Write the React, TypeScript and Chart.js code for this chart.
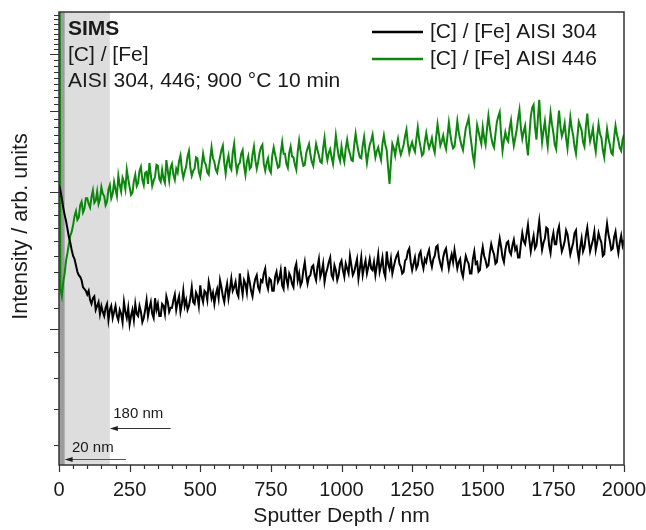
import React, { useEffect, useRef } from 'react';
import { Chart, registerables } from 'chart.js';

Chart.register(...registerables);

// Sputter depth (nm)
const depthNm = [
  0, 5, 10, 15, 20, 25, 30, 35, 40, 45, 50, 55, 60, 65, 70, 75, 80, 85, 90, 95,
  100, 105, 110, 115, 120, 125, 130, 135, 140, 145, 150, 155, 160, 165, 170, 175, 180, 185, 190, 195,
  200, 205, 210, 215, 220, 225, 230, 235, 240, 245, 250, 255, 260, 265, 270, 275, 280, 285, 290, 295,
  300, 305, 310, 315, 320, 325, 330, 335, 340, 345, 350, 355, 360, 365, 370, 375, 380, 385, 390, 395,
  400, 405, 410, 415, 420, 425, 430, 435, 440, 445, 450, 455, 460, 465, 470, 475, 480, 485, 490, 495,
  500, 505, 510, 515, 520, 525, 530, 535, 540, 545, 550, 555, 560, 565, 570, 575, 580, 585, 590, 595,
  600, 605, 610, 615, 620, 625, 630, 635, 640, 645, 650, 655, 660, 665, 670, 675, 680, 685, 690, 695,
  700, 705, 710, 715, 720, 725, 730, 735, 740, 745, 750, 755, 760, 765, 770, 775, 780, 785, 790, 795,
  800, 805, 810, 815, 820, 825, 830, 835, 840, 845, 850, 855, 860, 865, 870, 875, 880, 885, 890, 895,
  900, 905, 910, 915, 920, 925, 930, 935, 940, 945, 950, 955, 960, 965, 970, 975, 980, 985, 990, 995,
  1000, 1005, 1010, 1015, 1020, 1025, 1030, 1035, 1040, 1045, 1050, 1055, 1060, 1065, 1070, 1075, 1080, 1085, 1090, 1095,
  1100, 1105, 1110, 1115, 1120, 1125, 1130, 1135, 1140, 1145, 1150, 1155, 1160, 1165, 1170, 1175, 1180, 1185, 1190, 1195,
  1200, 1205, 1210, 1215, 1220, 1225, 1230, 1235, 1240, 1245, 1250, 1255, 1260, 1265, 1270, 1275, 1280, 1285, 1290, 1295,
  1300, 1305, 1310, 1315, 1320, 1325, 1330, 1335, 1340, 1345, 1350, 1355, 1360, 1365, 1370, 1375, 1380, 1385, 1390, 1395,
  1400, 1405, 1410, 1415, 1420, 1425, 1430, 1435, 1440, 1445, 1450, 1455, 1460, 1465, 1470, 1475, 1480, 1485, 1490, 1495,
  1500, 1505, 1510, 1515, 1520, 1525, 1530, 1535, 1540, 1545, 1550, 1555, 1560, 1565, 1570, 1575, 1580, 1585, 1590, 1595,
  1600, 1605, 1610, 1615, 1620, 1625, 1630, 1635, 1640, 1645, 1650, 1655, 1660, 1665, 1670, 1675, 1680, 1685, 1690, 1695,
  1700, 1705, 1710, 1715, 1720, 1725, 1730, 1735, 1740, 1745, 1750, 1755, 1760, 1765, 1770, 1775, 1780, 1785, 1790, 1795,
  1800, 1805, 1810, 1815, 1820, 1825, 1830, 1835, 1840, 1845, 1850, 1855, 1860, 1865, 1870, 1875, 1880, 1885, 1890, 1895,
  1900, 1905, 1910, 1915, 1920, 1925, 1930, 1935, 1940, 1945, 1950, 1955, 1960, 1965, 1970, 1975, 1980, 1985, 1990, 1995,
  2000,
];

// [C]/[Fe] ratio, AISI 304 (arb. units)
const aisi304 = [
  18.6, 18.1, 17.4, 16.6, 16.0, 15.5, 14.9, 14.3, 13.9, 13.4, 13.0, 12.8, 12.4, 12.0, 11.8, 11.7, 11.5, 11.1, 11.0, 10.9,
  10.7, 10.9, 10.4, 10.2, 10.5, 10.6, 9.9, 10.1, 10.3, 9.7, 10.1, 9.8, 9.6, 10.0, 10.2, 9.4, 9.9, 10.1, 9.5, 9.8,
  10.1, 9.6, 9.4, 9.9, 9.7, 9.3, 10.3, 9.8, 9.5, 10.0, 9.2, 9.6, 9.9, 9.4, 10.2, 9.7, 9.6, 10.1, 9.8, 9.3,
  9.5, 9.9, 10.4, 9.6, 10.0, 10.3, 9.7, 9.5, 10.5, 9.9, 10.2, 9.6, 9.6, 10.2, 10.1, 9.7, 10.6, 10.3, 9.8, 10.0,
  10.0, 10.4, 10.7, 9.9, 10.3, 10.6, 9.8, 10.2, 10.9, 10.1, 10.4, 9.9, 10.1, 10.5, 11.1, 10.3, 10.2, 10.8, 10.6, 10.1,
  11.2, 10.6, 10.3, 10.9, 10.8, 10.4, 11.4, 11.0, 10.5, 10.8, 10.2, 10.7, 11.0, 10.5, 11.5, 11.1, 10.6, 10.3, 10.9, 11.3,
  10.5, 11.0, 11.6, 10.9, 11.1, 11.4, 10.8, 10.6, 11.9, 11.2, 10.7, 11.5, 11.3, 10.8, 11.8, 11.4, 10.9, 10.6, 11.2, 11.6,
  11.8, 11.1, 10.9, 11.5, 11.4, 11.9, 12.2, 11.3, 11.0, 11.6, 11.5, 10.9, 10.9, 11.7, 12.0, 11.4, 11.6, 12.1, 11.2, 11.0,
  12.3, 11.6, 11.2, 11.9, 11.7, 11.3, 11.1, 12.2, 12.5, 11.5, 11.9, 11.2, 11.4, 12.1, 12.6, 11.8, 11.3, 11.7, 11.8, 12.3,
  12.4, 11.8, 11.5, 12.3, 12.8, 11.7, 12.0, 12.5, 11.4, 11.9, 12.2, 12.6, 12.9, 11.8, 11.6, 12.4, 12.1, 11.5, 11.8, 12.5,
  12.7, 12.1, 11.7, 12.5, 12.2, 11.9, 13.0, 12.4, 11.8, 12.0, 12.4, 12.8, 11.6, 12.2, 12.9, 11.8, 12.3, 12.7, 11.9, 12.3,
  12.8, 12.2, 12.1, 12.6, 11.8, 12.4, 13.1, 12.0, 12.4, 12.9, 12.0, 11.7, 13.3, 12.5, 12.2, 12.8, 11.9, 12.3, 12.7, 13.0,
  13.2, 12.5, 12.3, 11.9, 12.0, 12.7, 12.8, 13.3, 13.5, 12.6, 12.1, 12.5, 12.9, 12.2, 12.4, 13.1, 13.3, 12.6, 12.2, 12.8,
  12.6, 13.1, 13.4, 12.7, 12.3, 12.8, 13.0, 13.6, 13.7, 12.9, 12.5, 12.2, 12.9, 13.3, 13.5, 12.8, 12.2, 12.7, 13.1, 12.6,
  13.4, 12.8, 12.2, 12.6, 12.8, 12.0, 11.7, 12.4, 13.0, 12.7, 12.5, 11.9, 11.9, 12.8, 13.3, 12.5, 12.6, 12.0, 12.1, 13.0,
  13.6, 13.0, 12.7, 12.3, 12.4, 13.2, 13.8, 13.4, 13.1, 12.5, 12.6, 13.5, 14.2, 13.6, 12.9, 12.6, 13.4, 13.9, 14.0, 13.3,
  13.1, 13.7, 14.1, 13.4, 13.6, 12.9, 12.9, 13.8, 14.6, 14.0, 13.8, 14.5, 15.2, 14.1, 13.3, 13.9, 14.4, 13.5, 13.7, 14.6,
  15.5, 14.3, 13.4, 13.9, 14.2, 15.0, 14.9, 13.7, 13.2, 14.1, 14.6, 13.8, 13.8, 14.7, 15.1, 14.0, 13.3, 13.6, 14.0, 14.8,
  14.5, 13.8, 13.1, 13.5, 13.9, 14.6, 14.8, 13.4, 12.8, 13.6, 14.2, 13.3, 13.6, 14.4, 15.0, 14.1, 13.3, 13.7, 14.1, 14.7,
  13.4, 13.9, 14.6, 14.2, 13.9, 13.0, 13.1, 14.4, 15.3, 14.5, 14.0, 13.4, 13.5, 14.3, 14.7, 13.8, 13.2, 13.9, 14.4, 13.7,
  14.1,
];

// [C]/[Fe] ratio, AISI 446 (arb. units)
const aisi446 = [
  200, 11.0, 10.6, 11.4, 11.9, 12.7, 13.2, 13.8, 14.4, 14.7, 15.2, 15.9, 16.3, 15.6, 15.8, 16.8, 17.1, 16.2, 16.5, 17.4,
  17.4, 16.9, 16.6, 17.5, 18.1, 17.0, 17.2, 18.0, 16.9, 17.3, 18.4, 17.8, 17.6, 16.8, 17.1, 18.2, 18.6, 17.4, 17.8, 18.9,
  18.2, 17.6, 19.5, 18.6, 18.0, 19.3, 18.9, 18.2, 20.1, 19.2, 18.4, 17.7, 17.9, 19.0, 19.6, 18.5, 18.8, 20.0, 20.4, 19.1,
  18.6, 19.8, 19.9, 18.7, 20.8, 19.6, 18.5, 19.0, 19.4, 20.6, 20.5, 19.2, 18.9, 20.1, 19.2, 18.8, 21.1, 20.0, 19.0, 20.3,
  20.7, 19.6, 19.1, 20.2, 19.8, 21.0, 21.6, 20.1, 19.3, 19.9, 20.4, 21.5, 22.1, 20.3, 19.5, 20.0, 20.2, 21.4, 21.3, 19.9,
  19.4, 20.5, 21.8, 20.9, 20.6, 19.8, 19.6, 21.2, 22.5, 21.3, 20.9, 20.1, 19.8, 20.7, 21.4, 22.2, 22.7, 20.8, 19.7, 20.9,
  21.6, 20.4, 20.1, 21.9, 22.9, 21.0, 19.9, 20.6, 20.8, 21.8, 22.2, 20.5, 19.6, 20.9, 21.5, 20.2, 20.4, 21.7, 22.6, 21.1,
  20.2, 20.9, 21.9, 22.5, 22.8, 20.7, 20.0, 20.8, 21.3, 20.1, 19.8, 21.6, 22.5, 21.7, 21.0, 20.3, 20.4, 21.9, 23.1, 21.8,
  21.8, 20.7, 20.3, 21.9, 22.6, 21.5, 21.4, 20.6, 20.1, 22.0, 23.3, 22.1, 21.2, 20.5, 20.6, 21.8, 22.4, 22.9, 21.7, 20.9,
  20.5, 21.7, 22.9, 22.2, 21.6, 20.9, 20.8, 22.4, 23.6, 22.0, 21.1, 21.9, 22.3, 21.4, 20.7, 22.1, 23.9, 22.6, 21.5, 21.0,
  22.6, 21.5, 20.9, 22.4, 23.4, 22.3, 21.8, 21.1, 21.0, 22.8, 24.1, 22.9, 22.0, 21.4, 21.3, 22.7, 23.7, 22.1, 20.8, 21.9,
  22.8, 23.3, 24.0, 22.6, 21.4, 22.1, 22.5, 21.7, 21.1, 22.9, 23.9, 22.8, 22.2, 20.3, 18.7, 20.9, 22.9, 22.4, 21.6, 22.7,
  23.5, 22.4, 21.7, 22.2, 22.8, 23.8, 24.6, 22.9, 21.9, 22.6, 23.1, 22.4, 22.0, 23.5, 24.9, 23.4, 22.5, 21.6, 21.8, 23.2,
  24.2, 23.1, 22.4, 22.9, 23.6, 22.5, 21.9, 23.7, 25.3, 24.0, 22.7, 23.2, 23.9, 22.9, 22.3, 23.8, 25.5, 24.1, 23.0, 22.4,
  22.6, 24.0, 25.7, 24.3, 23.4, 22.7, 22.2, 23.5, 24.8, 25.4, 26.1, 24.2, 22.9, 21.6, 20.8, 22.8, 25.2, 24.4, 23.6, 22.9,
  24.9, 23.6, 22.8, 24.7, 26.4, 24.9, 23.7, 22.9, 22.5, 24.1, 25.6, 26.3, 26.9, 24.0, 22.1, 23.3, 24.3, 23.5, 23.2, 24.8,
  25.8, 23.9, 22.7, 23.6, 24.6, 26.0, 27.2, 24.8, 23.5, 24.4, 25.1, 23.0, 21.6, 23.9, 26.3, 27.5, 27.9, 25.0, 23.4, 25.9,
  28.6, 25.2, 23.1, 24.5, 25.7, 23.9, 22.6, 24.8, 26.8, 25.3, 24.2, 22.8, 22.3, 24.9, 27.1, 25.0, 23.8, 24.4, 25.4, 23.6,
  22.4, 24.3, 26.2, 24.8, 23.9, 22.6, 21.8, 23.7, 25.6, 25.1, 24.5, 23.1, 22.6, 24.9, 26.7, 24.6, 23.2, 23.9, 24.8, 23.0,
  22.0, 23.8, 25.3, 24.1, 23.6, 22.2, 21.4, 23.0, 24.7, 23.5, 22.8, 21.9, 21.7, 23.6, 25.1, 24.0, 23.3, 22.4, 22.1, 23.4,
  24.0,
];

const seriesLabels = ['[C] / [Fe] AISI 304', '[C] / [Fe] AISI 446'];
const seriesColors = ['#000000', '#0c860c'];

const xMinorTicks = [50, 100, 150, 200, 300, 350, 400, 450, 550, 600, 650, 700, 800, 850, 900, 950, 1050, 1100, 1150, 1200, 1300, 1350, 1400, 1450, 1550, 1600, 1650, 1700, 1800, 1850, 1900, 1950];
const xMajorTicks = [0, 250, 500, 750, 1000, 1250, 1500, 1750, 2000];
const yMinorTicks = [5, 6, 7, 8, 10, 11, 12, 13, 14, 15, 16, 17, 19, 20, 21, 22, 23, 24, 25, 26, 28, 29, 30, 31, 32, 33, 34, 35, 37, 38, 39, 40, 41, 42, 43, 44];
const yMajorTicks = [9, 18, 27, 36];

const infoLines = ['SIMS', '[C] / [Fe]', 'AISI 304, 446; 900 °C 10 min'];
// shaded depth regions (nm)
const outerRegion = [0, 180];
const innerRegion = [0, 20];
// arrow annotations
const arrowNotes = [
  { tip: 180, tail: 395, y: 5.45, label: '180 nm', lx: 192, ly: 5.85, color: '#333333' },
  { tip: 20, tail: 237, y: 4.66, label: '20 nm', lx: 46, ly: 4.93, color: '#555555' },
];

const FONT = "'Liberation Sans', Arial, Helvetica, sans-serif";
const TEXT = '#1a1a1a';
const AXIS = '#333333';

const shadePlugin = {
  id: 'shade',
  beforeDatasetsDraw(chart: any) {
    const { ctx, chartArea } = chart;
    const x = chart.scales.x;
    ctx.save();
    ctx.fillStyle = '#dddddd';
    const a = x.getPixelForValue(outerRegion[0]);
    const b = x.getPixelForValue(outerRegion[1]);
    ctx.fillRect(a, chartArea.top, b - a, chartArea.bottom - chartArea.top);
    ctx.fillStyle = '#9c9c9c';
    const c = x.getPixelForValue(innerRegion[0]);
    const d = x.getPixelForValue(innerRegion[1]);
    ctx.fillRect(c, chartArea.top, d - c, chartArea.bottom - chartArea.top);
    ctx.restore();
  },
};

const overlayPlugin = {
  id: 'overlay',
  afterDatasetsDraw(chart: any) {
    const { ctx, chartArea } = chart;
    const xs = chart.scales.x;
    const ys = chart.scales.y;
    const { left, right, top, bottom } = chartArea;
    ctx.save();
    // frame
    ctx.strokeStyle = AXIS;
    ctx.lineWidth = 1.5;
    ctx.strokeRect(left, top, right - left, bottom - top);
    // x ticks
    ctx.lineWidth = 1.2;
    ctx.beginPath();
    xMajorTicks.forEach((v) => {
      const px = Math.round(xs.getPixelForValue(v)) + 0.5;
      ctx.moveTo(px, bottom);
      ctx.lineTo(px, bottom + 7);
    });
    xMinorTicks.forEach((v) => {
      const px = Math.round(xs.getPixelForValue(v)) + 0.5;
      ctx.moveTo(px, bottom);
      ctx.lineTo(px, bottom + 4);
    });
    ctx.stroke();
    // y ticks
    ctx.beginPath();
    yMajorTicks.forEach((v) => {
      const py = Math.round(ys.getPixelForValue(v)) + 0.5;
      ctx.moveTo(left, py);
      ctx.lineTo(left - 9, py);
    });
    yMinorTicks.forEach((v) => {
      const py = Math.round(ys.getPixelForValue(v)) + 0.5;
      ctx.moveTo(left, py);
      ctx.lineTo(left - 5, py);
    });
    ctx.stroke();

    // info text
    ctx.fillStyle = TEXT;
    ctx.textAlign = 'left';
    ctx.textBaseline = 'alphabetic';
    infoLines.forEach((t, i) => {
      ctx.font = (i === 0 ? 'bold ' : '') + '21px ' + FONT;
      ctx.fillText(t, left + 9, top + 23 + i * 26);
    });

    // legend
    chart.data.datasets.forEach((ds: any, i: number) => {
      const y = top + 20 + i * 27;
      ctx.strokeStyle = ds.borderColor;
      ctx.lineWidth = 2.5;
      ctx.beginPath();
      ctx.moveTo(right - 252, y);
      ctx.lineTo(right - 201, y);
      ctx.stroke();
      ctx.fillStyle = TEXT;
      ctx.font = '21px ' + FONT;
      ctx.textBaseline = 'middle';
      ctx.fillText(ds.label, right - 194, y);
    });

    // arrows
    arrowNotes.forEach((n) => {
      const tx = xs.getPixelForValue(n.tip);
      const tl = xs.getPixelForValue(n.tail);
      const py = Math.round(ys.getPixelForValue(n.y)) + 0.5;
      ctx.strokeStyle = n.color;
      ctx.lineWidth = 1;
      ctx.beginPath();
      ctx.moveTo(tl, py);
      ctx.lineTo(tx + 4, py);
      ctx.stroke();
      ctx.fillStyle = '#222222';
      ctx.beginPath();
      ctx.moveTo(tx, py);
      ctx.lineTo(tx + 8, py - 2.5);
      ctx.lineTo(tx + 8, py + 2.5);
      ctx.closePath();
      ctx.fill();
      ctx.fillStyle = TEXT;
      ctx.font = '15px ' + FONT;
      ctx.textBaseline = 'middle';
      ctx.fillText(n.label, xs.getPixelForValue(n.lx), ys.getPixelForValue(n.ly));
    });
    ctx.restore();
  },
};

export default function App() {
  const ref = useRef<HTMLCanvasElement | null>(null);
  useEffect(() => {
    if (!ref.current) return;
    const chart = new Chart(ref.current, {
      type: 'line',
      data: {
        datasets: [aisi304, aisi446].map((vals, k) => ({
          label: seriesLabels[k],
          data: depthNm.map((d, i) => ({ x: d, y: vals[i] })),
          borderColor: seriesColors[k],
          backgroundColor: seriesColors[k],
          borderWidth: 2,
          pointRadius: 0,
          tension: 0,
          fill: false,
        })),
      },
      options: {
        responsive: false,
        animation: false,
        layout: { padding: { left: 0, top: 12, right: 22, bottom: 0 } },
        plugins: { legend: { display: false }, tooltip: { enabled: false } },
        scales: {
          x: {
            type: 'linear',
            min: 0,
            max: 2000,
            grid: { display: false, drawTicks: false },
            border: { display: false },
            ticks: {
              stepSize: 250,
              padding: 13,
              autoSkip: false,
              maxRotation: 0,
              color: TEXT,
              font: { family: FONT, size: 20 },
              callback: (v: any) => String(v),
            },
            title: {
              display: true,
              text: 'Sputter Depth / nm',
              color: TEXT,
              font: { family: FONT, size: 21 },
              padding: { top: 0, bottom: 1 },
            },
            afterFit: (s: any) => {
              s.height = 65;
              s.paddingLeft = 0;
              s.paddingRight = 0;
            },
          },
          y: {
            type: 'logarithmic',
            min: 4.52,
            max: 44.6,
            grid: { display: false, drawTicks: false },
            border: { display: false },
            ticks: { display: false },
            title: {
              display: true,
              text: '    Intensity / arb. units',
              color: TEXT,
              font: { family: FONT, size: 21.5 },
              padding: { top: 8, bottom: 0 },
            },
            afterFit: (s: any) => {
              s.width = 59;
              s.paddingTop = 0;
              s.paddingBottom = 0;
            },
          },
        },
      } as any,
      plugins: [shadePlugin, overlayPlugin],
    });
    return () => chart.destroy();
  }, []);
  return (
    <div style={{ position: 'absolute', left: 0, top: 0, width: 646, height: 530, background: '#fff' }}>
      <canvas ref={ref} width={646} height={530} style={{ display: 'block' }} />
    </div>
  );
}
